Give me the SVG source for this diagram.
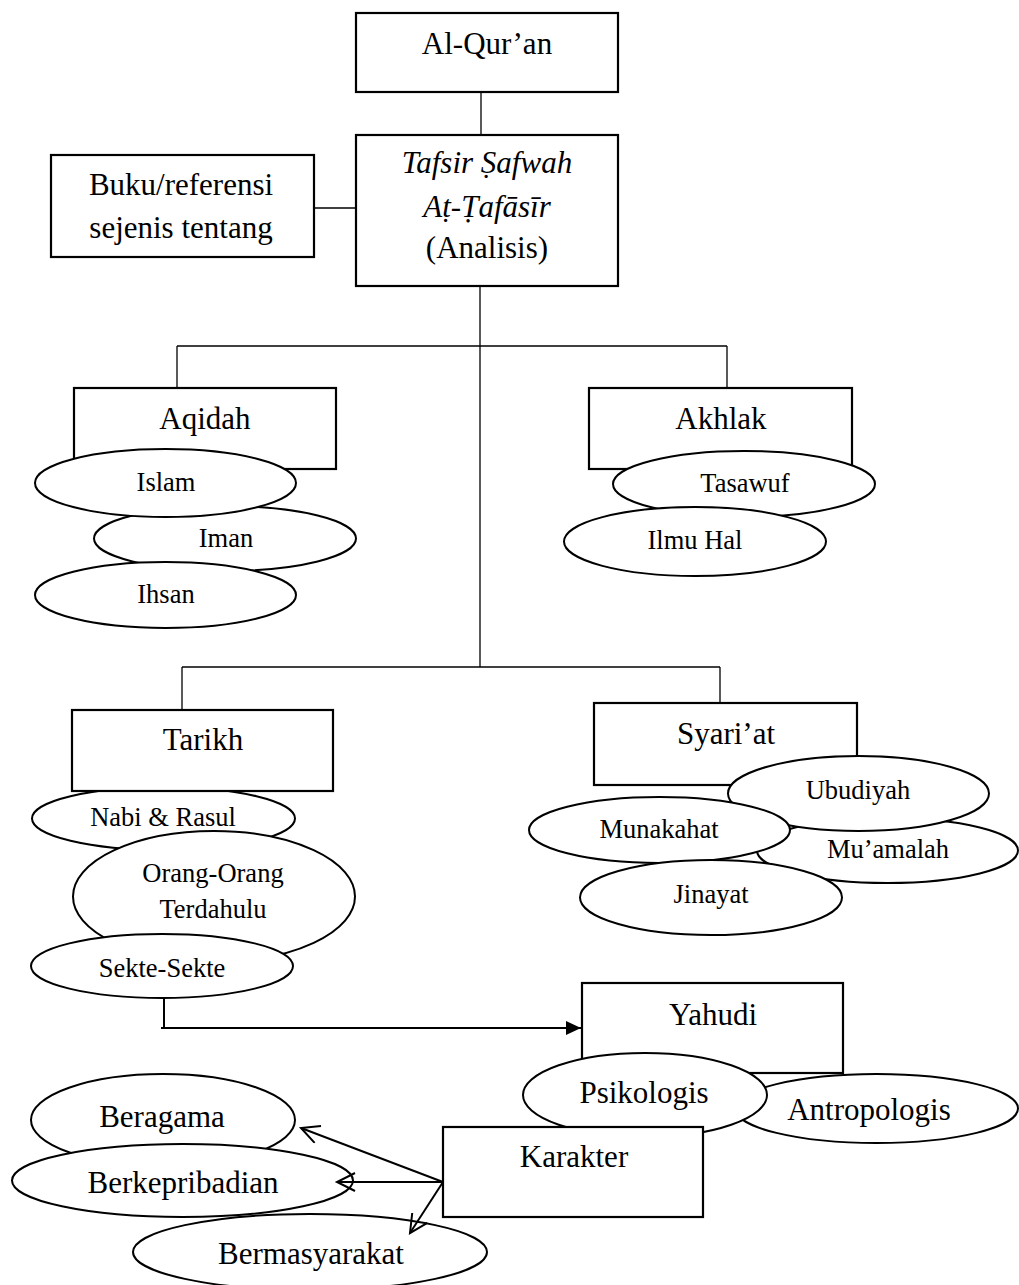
<svg xmlns="http://www.w3.org/2000/svg" width="1019" height="1285" viewBox="0 0 1019 1285">
<style>
  .box { fill: #fff; stroke: #000; stroke-width: 2.2; }
  .ell { fill: #fff; stroke: #000; stroke-width: 2; }
  .t { font-family: "Liberation Serif", "DejaVu Serif", "Times New Roman", serif; fill: #000; text-anchor: middle; }
  .big { font-size: 31px; }
  .small { font-size: 26.5px; }
  .it { font-style: italic; }
  .thin { stroke: #000; stroke-width: 1.3; fill: none; }
  .arr { stroke: #000; stroke-width: 2; fill: none; }
</style>
<defs>
  <marker id="solid" markerWidth="16" markerHeight="16" refX="15" refY="7" orient="auto" markerUnits="userSpaceOnUse">
    <path d="M0,0 L15,7 L0,14 Z" fill="#000"/>
  </marker>
  <marker id="open" markerWidth="22" markerHeight="22" refX="19" refY="10" orient="auto" markerUnits="userSpaceOnUse">
    <path d="M1,1 L19,10 L1,19" fill="none" stroke="#000" stroke-width="2"/>
  </marker>
</defs>
<rect width="1019" height="1285" fill="#fff"/>

<g id="alquran">
  <rect class="box" x="356" y="13" width="262" height="79"/>
  <text class="t big" x="487" y="54">Al-Qur’an</text>
</g>
<g id="tafsir">
  <rect class="box" x="356" y="135" width="262" height="151"/>
  <text class="t big it" x="487" y="173">Tafsir Ṣafwah</text>
  <text class="t big it" x="487" y="217">Aṭ-Ṭafāsīr</text>
  <text class="t big" x="487" y="258">(Analisis)</text>
</g>
<g id="buku">
  <rect class="box" x="51" y="155" width="263" height="102"/>
  <text class="t big" x="181" y="195">Buku/referensi</text>
  <text class="t big" x="181" y="238">sejenis tentang</text>
</g>

<g id="aqidah">
  <rect class="box" x="74" y="388" width="262" height="81"/>
  <text class="t big" x="205" y="429">Aqidah</text>
</g>
<g id="iman">
  <ellipse class="ell" cx="225" cy="538.5" rx="131" ry="32.5"/>
  <text class="t small" x="226" y="547">Iman</text>
</g>
<g id="islam">
  <ellipse class="ell" cx="165.5" cy="483" rx="130.5" ry="34"/>
  <text class="t small" x="166" y="491">Islam</text>
</g>
<g id="ihsan">
  <ellipse class="ell" cx="165.5" cy="595" rx="130.5" ry="33"/>
  <text class="t small" x="166" y="603">Ihsan</text>
</g>

<g id="akhlak">
  <rect class="box" x="589" y="388" width="263" height="81"/>
  <text class="t big" x="721" y="429">Akhlak</text>
</g>
<g id="tasawuf">
  <ellipse class="ell" cx="744" cy="484" rx="131" ry="33"/>
  <text class="t small" x="745" y="492">Tasawuf</text>
</g>
<g id="ilmuhal">
  <ellipse class="ell" cx="695" cy="541.5" rx="131" ry="34.5"/>
  <text class="t small" x="695" y="549">Ilmu Hal</text>
</g>

<g id="nabirasul">
  <ellipse class="ell" cx="163.5" cy="818.5" rx="131.5" ry="31.5"/>
  <text class="t small" x="163" y="826">Nabi &amp; Rasul</text>
</g>
<g id="tarikh">
  <rect class="box" x="72" y="710" width="261" height="81"/>
  <text class="t big" x="203" y="750">Tarikh</text>
</g>
<g id="orang">
  <ellipse class="ell" cx="214" cy="896.5" rx="141" ry="65.5"/>
  <text class="t small" x="213" y="882">Orang-Orang</text>
  <text class="t small" x="213" y="918">Terdahulu</text>
</g>
<g id="sekte">
  <ellipse class="ell" cx="162" cy="966" rx="131" ry="32"/>
  <text class="t small" x="162" y="977">Sekte-Sekte</text>
</g>

<g id="syariat">
  <rect class="box" x="594" y="703" width="263" height="82"/>
  <text class="t big" x="726" y="744">Syari’at</text>
</g>
<g id="muamalah">
  <ellipse class="ell" cx="887.5" cy="850.5" rx="130.5" ry="32.5"/>
  <text class="t small" x="888" y="858">Mu’amalah</text>
</g>
<g id="ubudiyah">
  <ellipse class="ell" cx="858.5" cy="793.5" rx="130.5" ry="37.5"/>
  <text class="t small" x="858" y="799">Ubudiyah</text>
</g>
<g id="munakahat">
  <ellipse class="ell" cx="659.5" cy="830" rx="130.5" ry="33"/>
  <text class="t small" x="659" y="838">Munakahat</text>
</g>
<g id="jinayat">
  <ellipse class="ell" cx="711" cy="897.5" rx="131" ry="37.5"/>
  <text class="t small" x="711" y="903">Jinayat</text>
</g>

<g id="yahudi">
  <rect class="box" x="582" y="983" width="261" height="90"/>
  <text class="t big" x="713" y="1025">Yahudi</text>
</g>
<g id="antropologis">
  <ellipse class="ell" cx="876.5" cy="1108.5" rx="141.5" ry="34.5"/>
  <text class="t big" x="869" y="1120">Antropologis</text>
</g>
<g id="psikologis">
  <ellipse class="ell" cx="645" cy="1095" rx="122" ry="42"/>
  <text class="t big" x="644" y="1103">Psikologis</text>
</g>
<g id="karakter">
  <rect class="box" x="443" y="1127" width="260" height="90"/>
  <text class="t big" x="574" y="1167">Karakter</text>
</g>

<g id="beragama">
  <ellipse class="ell" cx="163" cy="1120" rx="132" ry="46"/>
  <text class="t big" x="162" y="1127">Beragama</text>
</g>
<g id="berkepribadian">
  <ellipse class="ell" cx="182.5" cy="1180.5" rx="170.5" ry="36.5"/>
  <text class="t big" x="183" y="1193">Berkepribadian</text>
</g>
<g id="bermasyarakat">
  <ellipse class="ell" cx="310" cy="1252" rx="177" ry="38"/>
  <text class="t big" x="311" y="1264">Bermasyarakat</text>
</g>

<g id="connectors">
  <line class="thin" x1="481" y1="92" x2="481" y2="135"/>
  <line class="thin" x1="314" y1="208" x2="356" y2="208"/>
  <line class="thin" x1="480" y1="286" x2="480" y2="667"/>
  <line class="thin" x1="177" y1="346" x2="727" y2="346"/>
  <line class="thin" x1="177" y1="346" x2="177" y2="388"/>
  <line class="thin" x1="727" y1="346" x2="727" y2="388"/>
  <line class="thin" x1="182" y1="667" x2="720" y2="667"/>
  <line class="thin" x1="182" y1="667" x2="182" y2="710"/>
  <line class="thin" x1="720" y1="667" x2="720" y2="703"/>
  <line class="arr" x1="164" y1="998" x2="164" y2="1028" stroke-width="1.6"/>
  <line class="arr" x1="161" y1="1028" x2="581" y2="1028" marker-end="url(#solid)"/>
  <line class="arr" x1="443" y1="1182" x2="301" y2="1128" marker-end="url(#open)"/>
  <line class="arr" x1="443" y1="1182" x2="337" y2="1182" marker-end="url(#open)"/>
  <line class="arr" x1="443" y1="1182" x2="410" y2="1233" marker-end="url(#open)"/>
</g>
</svg>
